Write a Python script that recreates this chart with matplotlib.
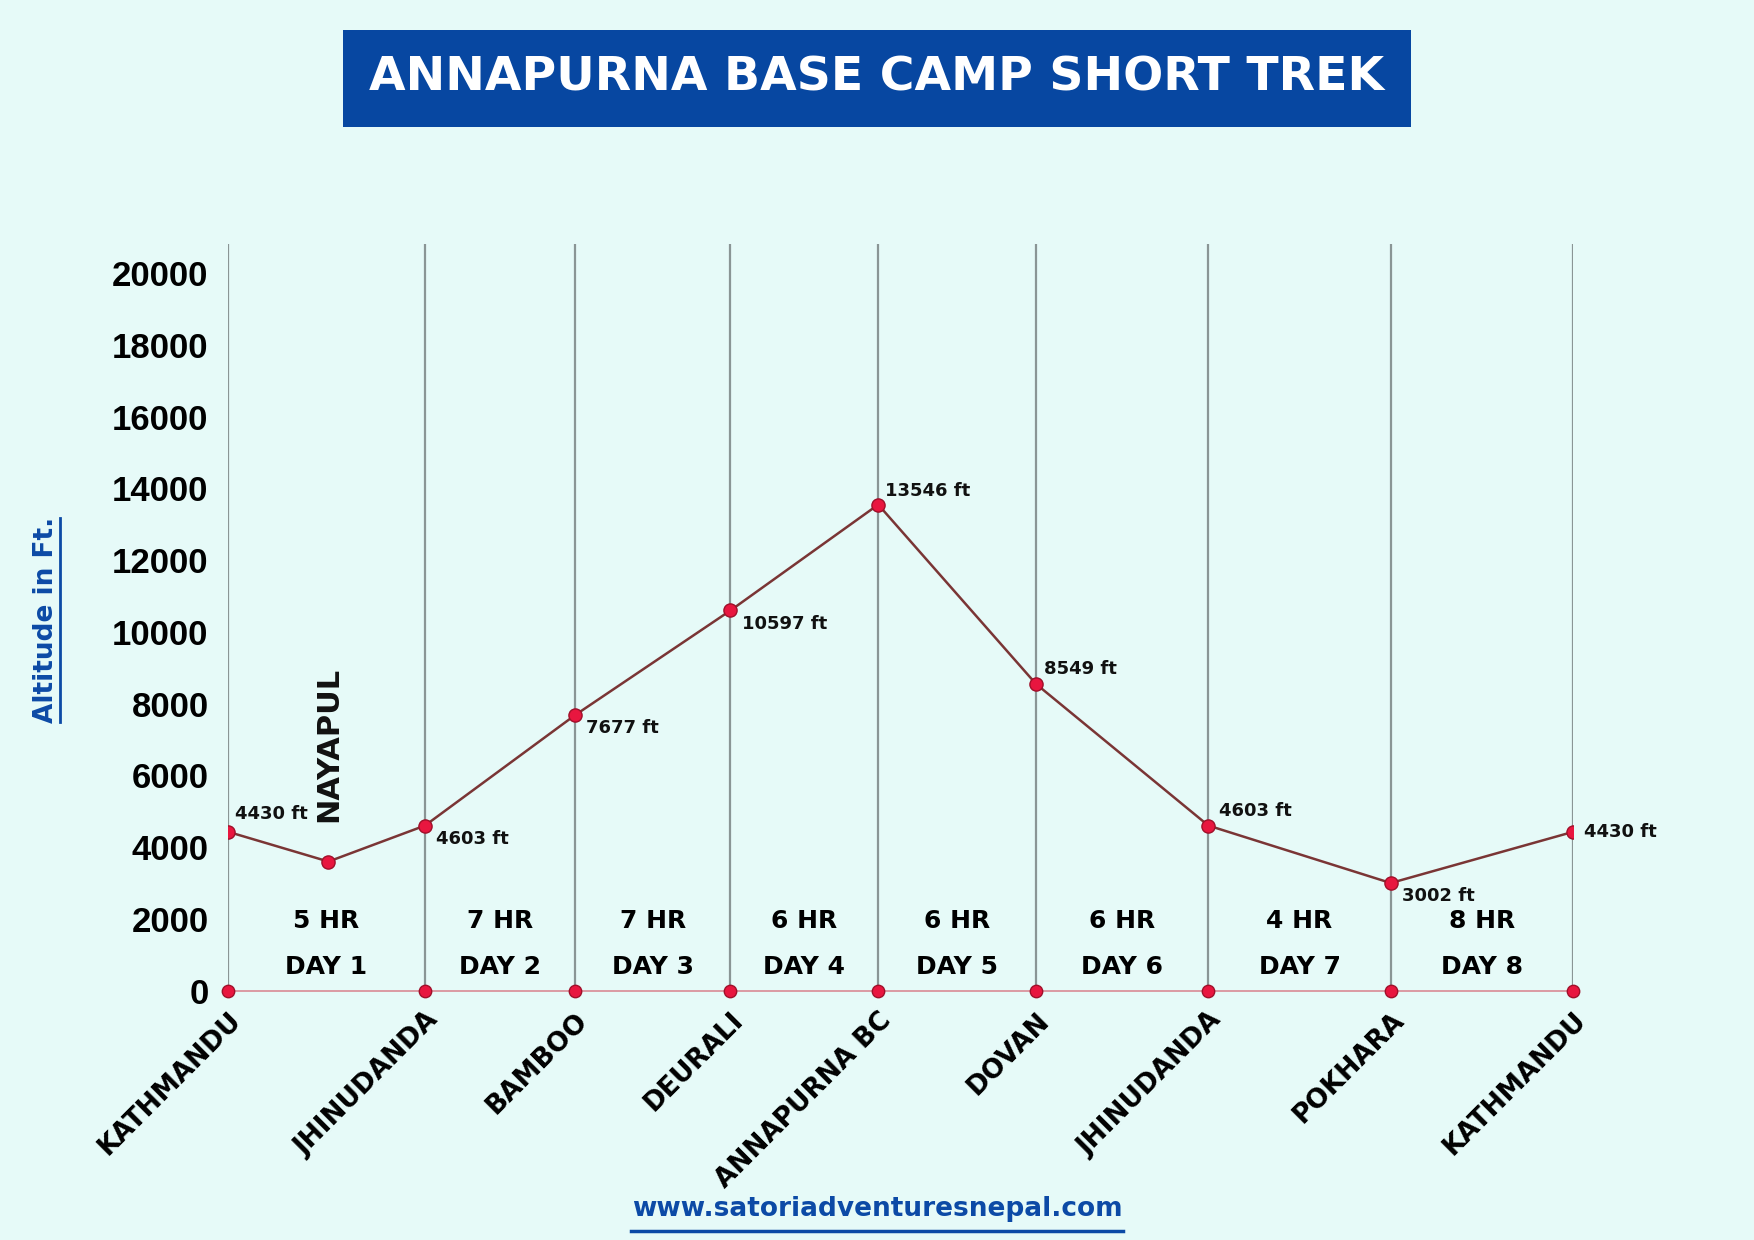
import matplotlib
matplotlib.use("Agg")
import matplotlib.pyplot as plt

places = ["KATHMANDU", "JHINUDANDA", "BAMBOO", "DEURALI", "ANNAPURNA BC",
          "DOVAN", "JHINUDANDA", "POKHARA", "KATHMANDU"]
route_x = [0, 0.51, 1, 2, 3, 4, 5, 6, 7, 8]
route_alt = [4430, 3600, 4603, 7677, 10597, 13546, 8549, 4603, 3002, 4430]
alt_labels = ["4430 ft", None, "4603 ft", "7677 ft", "10597 ft", "13546 ft",
              "8549 ft", "4603 ft", "3002 ft", "4430 ft"]
hours = ["5 HR", "7 HR", "7 HR", "6 HR", "6 HR", "6 HR", "4 HR", "8 HR"]
days = ["DAY 1", "DAY 2", "DAY 3", "DAY 4", "DAY 5", "DAY 6", "DAY 7", "DAY 8"]
stage_pos = [0, 1, 1.761, 2.551, 3.301, 4.102, 4.977, 5.903, 6.830]

bg = "#e6faf8"
fig = plt.figure(figsize=(17.54, 12.40), dpi=100, facecolor=bg)
ax = fig.add_axes([0.130, 0.201, 0.767, 0.602])
ax.set_facecolor(bg)

def mapx(v):
    i = int(v)
    if i >= 8:
        return stage_pos[8]
    return stage_pos[i] + (v - i) * (stage_pos[i + 1] - stage_pos[i])

xs = [mapx(v) for v in route_x]
ax.set_xlim(0, stage_pos[-1])
ax.set_ylim(0, 20800)
for p in stage_pos:
    ax.axvline(p, color="#8a9595", lw=1.6, zorder=1)
ax.plot([0, stage_pos[-1]], [0, 0], color="#d98a95", lw=1.2, zorder=2, clip_on=False)
ax.scatter(stage_pos, [0] * len(stage_pos), s=80, color="#e8163f", edgecolor="#a0102a",
           zorder=4, clip_on=False)
ax.plot(xs, route_alt, color="#7a3535", lw=1.8, zorder=3)
ax.scatter(xs, route_alt, s=90, color="#e8163f", edgecolor="#a0102a", zorder=4)

offs = [(5, 6, "left", "bottom"), None, (8, -3, "left", "top"), (8, -3, "left", "top"),
        (8, -3, "left", "top"), (5, 3, "left", "bottom"), (6, 4, "left", "bottom"),
        (8, 4, "left", "bottom"), (8, -3, "left", "top"), (8, 0, "left", "center")]
for x, y, t, o in zip(xs, route_alt, alt_labels, offs):
    if t:
        ax.annotate(t, (x, y), xytext=(o[0], o[1]), textcoords="offset points",
                    ha=o[2], va=o[3], fontsize=13, fontweight="bold", color="#111")
ax.text(mapx(0.51), 4700, "NAYAPUL", rotation=90, ha="center", va="bottom",
        fontsize=22, fontweight="bold", color="#111")

for i in range(8):
    cx = (stage_pos[i] + stage_pos[i + 1]) / 2
    ax.text(cx, 1950, hours[i], ha="center", va="center", fontsize=18,
            fontweight="bold", family="Liberation Sans Narrow")
    ax.text(cx, 650, days[i], ha="center", va="center", fontsize=18,
            fontweight="bold", family="Liberation Sans Narrow")

ax.set_yticks(range(0, 20001, 2000))
ax.set_yticklabels([str(v) for v in range(0, 20001, 2000)], fontsize=25, fontweight="bold",
                   family="Liberation Sans")
ax.set_xticks(stage_pos)
ax.set_xticklabels(places, rotation=45, ha="right", va="top", rotation_mode="anchor",
                   fontsize=19, fontweight="bold")
ax.tick_params(axis="y", length=0, pad=14)
ax.tick_params(axis="x", length=0, pad=12)
for s in ax.spines.values():
    s.set_visible(False)

fig.text(0.026, 0.5, "Altitude in Ft.", rotation=90, ha="center", va="center",
         fontsize=19, fontweight="bold", color="#0c4aa6")
fig.add_artist(plt.Line2D([0.034, 0.034], [0.418, 0.582], color="#0c4aa6", lw=2))

fig.text(0.5, 0.937, "ANNAPURNA BASE CAMP SHORT TREK", ha="center", va="center",
         fontsize=34, fontweight="bold", color="white",
         bbox=dict(boxstyle="square,pad=0.55", fc="#0747a1", ec="none"))
fig.text(0.5, 0.025, "www.satoriadventuresnepal.com", ha="center", va="center",
         fontsize=19, fontweight="bold", color="#0c4aa6")
fig.add_artist(plt.Line2D([0.36, 0.64], [0.007, 0.007], color="#0c4aa6", lw=2.5))

fig.savefig("out.png", dpi=100, facecolor=bg)
